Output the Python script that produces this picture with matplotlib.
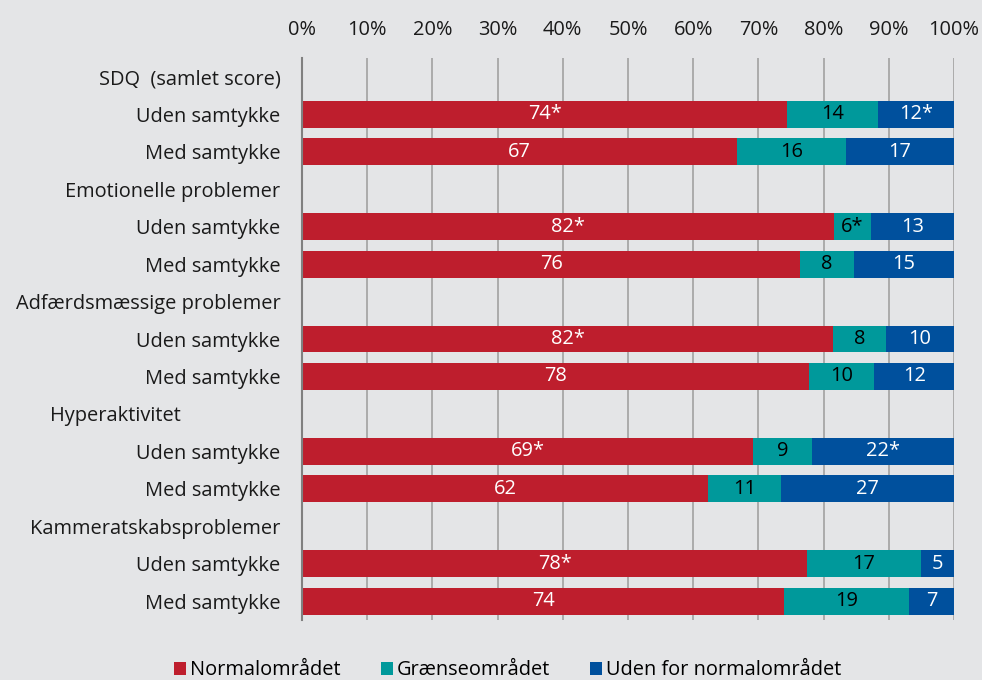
import numpy as np
import matplotlib.pyplot as plt
from matplotlib.transforms import ScaledTranslation

plt.rcParams['font.family'] = ['Open Sans', 'DejaVu Sans']

groups = ['SDQ  (samlet score)', 'Emotionelle problemer', 'Adfærdsmæssige problemer',
          'Hyperaktivitet', 'Kammeratskabsproblemer']
subrows = ['Uden samtykke', 'Med samtykke']

# shares in percent (order: group by group, Uden then Med)
normal = [74.4, 66.7, 81.6, 76.4, 81.5, 77.8, 69.2, 62.3, 77.5, 74.0]
graense = [13.9, 16.7, 5.6, 8.3, 8.1, 10.0, 9.0, 11.1, 17.4, 19.1]
udenfor = [11.7, 16.6, 12.8, 15.3, 10.4, 12.2, 21.8, 26.6, 5.1, 6.9]

normal_lbl = ['74*', '67', '82*', '76', '82*', '78', '69*', '62', '78*', '74']
graense_lbl = ['14', '16', '6*', '8', '8', '10', '9', '11', '17', '19']
udenfor_lbl = ['12*', '17', '13', '15', '10', '12', '22*', '27', '5', '7']

series = ['Normalområdet', 'Grænseområdet', 'Uden for normalområdet']
colors = ['#BE1E2D', '#00999B', '#00509D']
txtcol = ['white', 'black', 'white']
bg = '#E4E5E7'
fs = 14.4

# row layout: header, Uden, Med per group
ylabels = []
bar_y = []
y = 0
for g in groups:
    ylabels.append(g)
    y += 1
    for s in subrows:
        ylabels.append(s)
        bar_y.append(y)
        y += 1
bar_y = np.array(bar_y)

fig = plt.figure(figsize=(9.82, 6.8), dpi=100, facecolor=bg)
ax = fig.add_axes([302 / 982, 60 / 680, 652 / 982, 562 / 680])
ax.set_facecolor(bg)

left = np.zeros(len(normal))
for vals, lbls, c, tc, name in zip([normal, graense, udenfor],
                                   [normal_lbl, graense_lbl, udenfor_lbl],
                                   colors, txtcol, series):
    vals = np.array(vals)
    bars = ax.barh(bar_y, vals, left=left, height=0.72, color=c, label=name, zorder=3)
    for b, l in zip(bars, lbls):
        ax.text(b.get_x() + b.get_width() / 2, b.get_y() + b.get_height() / 2, l,
                ha='center', va='center', color=tc, fontsize=fs, zorder=4)
    left = left + vals

ax.set_xlim(0, 100)
ax.set_ylim(len(ylabels) - 0.5, -0.5)
ax.set_yticks(range(len(ylabels)))
ax.set_yticklabels(ylabels, fontsize=fs, color='#1a1a1a')
ax.set_xticks(np.arange(0, 101, 10))
ax.set_xticklabels(['%d%%' % v for v in range(0, 101, 10)], fontsize=fs, color='#1a1a1a')
ax.xaxis.tick_top()
ax.tick_params(axis='both', length=0)
ax.tick_params(axis='x', pad=13)
ax.tick_params(axis='y', pad=15.5)
ax.grid(True, axis='x', color='#A6A6A6', linewidth=1.3, zorder=0)
for sp in ['top', 'right', 'bottom']:
    ax.spines[sp].set_visible(False)
ax.spines['left'].set_color('#808080')
ax.spines['left'].set_linewidth(1.5)
ax.spines['left'].set_zorder(5)

# "Hyperaktivitet" sits further left in the original
lab = ax.get_yticklabels()[ylabels.index('Hyperaktivitet')]
lab.set_transform(lab.get_transform() + ScaledTranslation(-1.0, 0, fig.dpi_scale_trans))

fig.legend(loc='center', bbox_to_anchor=(0.517, 0.014), ncol=3, frameon=False,
           fontsize=fs, handlelength=0.6, handleheight=0.6, handletextpad=0.2,
           columnspacing=2.0)

fig.savefig('out.png', dpi=100, facecolor=bg)
